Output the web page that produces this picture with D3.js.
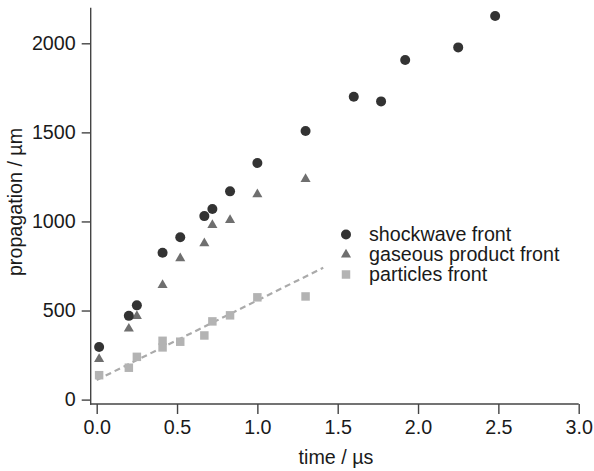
<!DOCTYPE html>
<html>
<head>
<meta charset="utf-8">
<script src="https://cdn.jsdelivr.net/npm/d3@7"></script>
<style>
  body { margin: 0; background: #fff; }
  svg text { font-family: "Liberation Sans", Arial, Helvetica, sans-serif; fill: #1a1a1a; }
</style>
</head>
<body>
<div id="chart"></div>
<script>
// values
var shockTime = [0.015, 0.2, 0.25, 0.41, 0.52, 0.67, 0.72, 0.83, 1.0, 1.3, 1.6, 1.77, 1.92, 2.25, 2.48];
var shockProp = [295, 470, 529, 824, 911, 1030, 1070, 1169, 1328, 1508, 1700, 1674, 1906, 1977, 2153];
var gasTime = [0.015, 0.2, 0.25, 0.41, 0.52, 0.67, 0.72, 0.83, 1.0, 1.3];
var gasProp = [227, 398, 469, 643, 793, 877, 980, 1008, 1152, 1238];
var partTime = [0.015, 0.2, 0.25, 0.41, 0.41, 0.52, 0.67, 0.72, 0.83, 1.0, 1.3];
var partProp = [137, 179, 240, 330, 293, 325, 360, 439, 473, 574, 579];
var fitTime = [0, 1.41];
var fitProp = [110, 740];

var xTicks = [0, 0.5, 1.0, 1.5, 2.0, 2.5, 3.0];
var yTicks = [0, 500, 1000, 1500, 2000];
var legendLabels = ["shockwave front", "gaseous product front", "particles front"];

var width = 594, height = 471;
var fontSize = "19.7px";

var svg = d3.select("#chart").append("svg")
    .attr("width", width)
    .attr("height", height);

var x = d3.scaleLinear().domain([0, 3]).range([96.7, 578.7]);
var y = d3.scaleLinear().domain([0, 2000]).range([399.6, 43.3]);

var axisX = 90.7, axisY = 404;
var axisColor = "#444";

// y axis
var yAxis = svg.append("g")
    .attr("transform", "translate(" + axisX + ",0)")
    .call(d3.axisLeft(y).tickValues(yTicks).tickFormat(d3.format("d")).tickSize(9).tickPadding(6).tickSizeOuter(0));
yAxis.select(".domain").remove();
yAxis.append("line")
    .attr("x1", 0).attr("x2", 0)
    .attr("y1", y(2200)).attr("y2", axisY + 0.7)
    .attr("stroke", axisColor).attr("stroke-width", 1.4);

// x axis
var xAxis = svg.append("g")
    .attr("transform", "translate(0," + axisY + ")")
    .call(d3.axisBottom(x).tickValues(xTicks).tickFormat(d3.format(".1f")).tickSize(10).tickPadding(6).tickSizeOuter(0));
xAxis.select(".domain").remove();
xAxis.append("line")
    .attr("x1", axisX - 0.7).attr("x2", x(3))
    .attr("y1", 0).attr("y2", 0)
    .attr("stroke", axisColor).attr("stroke-width", 1.4);

svg.selectAll(".tick line").attr("stroke", axisColor).attr("stroke-width", 1.4);
svg.selectAll(".tick text")
    .style("font-size", fontSize)
    .style("font-family", '"Liberation Sans", Arial, sans-serif')
    .attr("fill", "#1a1a1a");

// axis titles
svg.append("text")
    .attr("x", 336)
    .attr("y", 464)
    .attr("text-anchor", "middle")
    .style("font-size", fontSize)
    .text("time / µs");

svg.append("text")
    .attr("transform", "translate(22,202) rotate(-90)")
    .attr("text-anchor", "middle")
    .style("font-size", fontSize)
    .text("propagation / µm");

// dashed fit line for the particles
var fit = fitTime.map(function(t, i) { return [t, fitProp[i]]; });
svg.append("path")
    .datum(fit)
    .attr("fill", "none")
    .attr("stroke", "#aaaaaa")
    .attr("stroke-width", 2.2)
    .attr("stroke-dasharray", "6,4")
    .attr("d", d3.line().x(function(d) { return x(d[0]); }).y(function(d) { return y(d[1]); }));

var circleColor = "#333333", triColor = "#6f6f6f", squareColor = "#b3b3b3";
var triSymbol = d3.symbol().type(d3.symbolTriangle).size(44);
var squareSymbol = d3.symbol().type(d3.symbolSquare).size(72);

// particles
svg.selectAll(".part")
    .data(partTime.map(function(t, i) { return [t, partProp[i]]; }))
    .enter().append("path")
    .attr("class", "part")
    .attr("transform", function(d) { return "translate(" + x(d[0]) + "," + y(d[1]) + ")"; })
    .attr("d", squareSymbol)
    .attr("fill", squareColor);

// gaseous product
svg.selectAll(".gas")
    .data(gasTime.map(function(t, i) { return [t, gasProp[i]]; }))
    .enter().append("path")
    .attr("class", "gas")
    .attr("transform", function(d) { return "translate(" + x(d[0]) + "," + y(d[1]) + ")"; })
    .attr("d", triSymbol)
    .attr("fill", triColor);

// shockwave
svg.selectAll(".shock")
    .data(shockTime.map(function(t, i) { return [t, shockProp[i]]; }))
    .enter().append("circle")
    .attr("class", "shock")
    .attr("cx", function(d) { return x(d[0]); })
    .attr("cy", function(d) { return y(d[1]); })
    .attr("r", 5)
    .attr("fill", circleColor);

// legend
var legend = svg.append("g").attr("transform", "translate(346,234.5)");
legendLabels.forEach(function(label, i) {
    var row = legend.append("g").attr("transform", "translate(0," + (i * 20) + ")");
    if (i === 0) row.append("circle").attr("r", 5).attr("fill", circleColor);
    if (i === 1) row.append("path").attr("d", triSymbol).attr("fill", triColor);
    if (i === 2) row.append("path").attr("d", squareSymbol).attr("fill", squareColor);
    row.append("text")
        .attr("x", 23)
        .attr("y", 6.5)
        .style("font-size", fontSize)
        .text(label);
});
</script>
</body>
</html>
